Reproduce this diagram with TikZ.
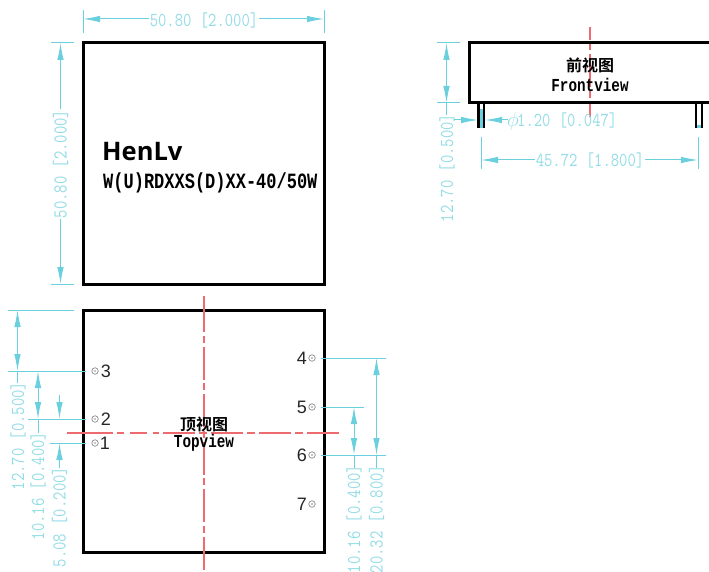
\documentclass[tikz,border=0pt]{standalone}
\usepackage{fontspec}
\setmonofont{Liberation Mono}
\newfontfamily\cjkb[BoldFont={Noto Sans CJK SC Bold}]{Noto Sans CJK SC}
\newfontfamily\hensans{Open Sans}
\newfontfamily\pinsans{Liberation Sans}
\newfontfamily\lmm{Latin Modern Mono}
\usetikzlibrary{arrows.meta}
\definecolor{dimc}{HTML}{6AD0DD}
\definecolor{dimt}{HTML}{93DCE6}
\definecolor{axisc}{HTML}{EC6A70}
\newcommand{\dimstr}[1]{\scalebox{1}[1.22]{#1}}
\newcommand{\tallb}[1]{\scalebox{1}[1.28]{#1}}
\tikzset{
  x=1pt,y=-1pt,
  body/.style={draw=black,line width=3pt},
  pinleg/.style={draw=black,line width=2.2pt},
  dimline/.style={draw=dimc,line width=1pt},
  extline/.style={draw=dimc,line width=1pt},
  both/.style={dimline,{Latex[length=17pt,width=6.5pt]}-{Latex[length=17pt,width=6.5pt]}},
  onetip/.style={dimline,-{Latex[length=17pt,width=6.5pt]}},
  dimtext/.style={text=dimt,inner sep=0pt,font=\lmm\fontsize{16.2}{17}\selectfont},
  vdim/.style={dimtext,rotate=90},
  axis/.style={draw=axisc,line width=1.2pt},
  axisv/.style={axis,dash pattern=on 33pt off 3.5pt on 7pt off 4pt},
  axish/.style={axis,dash pattern=on 32pt off 4pt on 8pt off 4pt},
  pinhole/.style={circle,draw=black!45,line width=.7pt,fill=white,inner sep=0pt,minimum size=6.5pt},
  pindot/.style={circle,fill=black!45,inner sep=0pt,minimum size=1.6pt},
  pinnum/.style={inner sep=0pt,font=\pinsans\fontsize{18}{18}\selectfont,text=black!85},
  cnlabel/.style={inner sep=0pt,font=\cjkb\bfseries\fontsize{16}{17}\selectfont},
  enlabel/.style={inner sep=0pt,font=\ttfamily\bfseries\fontsize{14.3}{16}\selectfont},
}
\begin{document}
\begin{tikzpicture}
\useasboundingbox (0,0) rectangle (709,572);
% ---------- main outline (product view)
\draw[body] (83,43) rectangle (324,284);
\node[inner sep=0pt,anchor=west,font=\hensans\bfseries\fontsize{25.5}{26}\selectfont] (brand) at (102,152) {HenLv};
\node[inner sep=0pt,anchor=west,font=\ttfamily\bfseries\fontsize{17}{18}\selectfont] (model) at (103,183) {\tallb{W(U)RDXXS(D)XX-40/50W}};
% top dim
\coordinate (tl) at (83,19); \coordinate (tr) at (324,19);
\draw[extline] (83,10) -- (83,33);
\draw[extline] (324,10) -- (324,33);
\draw[both] (tl) -- (tr);
\node[dimtext,fill=white,inner xsep=1pt] (d1) at (204,20) {\dimstr{50.80 [2.000]}};
% left dim
\coordinate (lt) at (60.5,43); \coordinate (lb) at (60.5,284);
\draw[extline] (51,43) -- (74,43);
\draw[extline] (51,284) -- (74,284);
\draw[both] (lt) -- (lb);
\node[vdim,fill=white,inner ysep=1pt,inner xsep=1pt] (d2) at (60.5,164) {\dimstr{50.80 [2.000]}};
% ---------- front view
\draw[axis,dash pattern=on 13pt off 3.5pt on 7pt off 4pt on 33pt off 3.5pt on 7pt off 4pt on 15pt off 0pt] (590,27) -- (590,117);
\draw[pinleg] (478.5,103) -- (478.5,128) (484,103) -- (484,128);
\draw[pinleg] (696,103) -- (696,128) (702,103) -- (702,128);
\fill[dimc] (479.6,109) rectangle (482.9,128);
\fill[dimc] (697.1,125) rectangle (700.9,128);
\draw[body] (709.5,43) -- (469,43) -- (469,103) -- (709.5,103);
\node[cnlabel] (fc) at (590,65) {前视图};
\node[enlabel] (fe) at (590,85) {\tallb{Frontview}};
\coordinate (ft) at (446.5,43); \coordinate (fb) at (446.5,103);
\draw[extline] (437,43) -- (460,43);
\draw[extline] (437,103) -- (460,103);
\draw[both] (ft) -- (fb);
\draw[dimline] (446.5,103) -- (446.5,115);
\node[vdim] (d3) at (447,168) {\dimstr{12.70 [0.500]}};
\coordinate (pl) at (478,120); \coordinate (pr) at (485,120);
\draw[onetip] (454,120) -- (pl);
\draw[onetip] (508,120) -- (pr);
\node[dimtext,anchor=east] (d4) at (617.5,120) {\dimstr{1.20 [0.047]}};
\node[text=dimt,inner sep=0pt,font=\fontsize{22}{22}\selectfont] (phi) at (513,121) {$\phi$};
\coordinate (fdl) at (481,160); \coordinate (fdr) at (698,160);
\draw[extline] (481,137) -- (481,169);
\draw[extline] (698,137) -- (698,169);
\draw[both] (fdl) -- (fdr);
\node[dimtext,fill=white,inner xsep=1pt] (d5) at (590,160) {\dimstr{45.72 [1.800]}};
% ---------- top view
\draw[body] (83,310) rectangle (324,552);
\draw[axis] (204,296) -- (204,299);
\draw[axisv] (204,299) -- (204,570);
\draw[axis] (67,433) -- (113,433) (117,433) -- (124,433) (130,433) -- (147,433) (153,433) -- (159,433);
\draw[axish] (163,433) -- (341,433);
\node[cnlabel] (tc) at (204,424) {顶视图};
\node[enlabel] (te) at (204,443) {\tallb{Topview}};
\foreach \n/\x/\y/\lx in {1/95/443/105,2/95/419/106,3/95/371/106,4/312/358/302,5/312/407/302,6/312/455/302,7/312/504/302}{
  \node[pinhole] (h\n) at (\x,\y) {};
  \node[pindot] (k\n) at (h\n) {};
  \node[pinnum] (n\n) at (\lx,\y) {\n};
}
% left ext lines
\draw[extline] (8,310) -- (74,310);
\draw[extline] (8,371) -- (86,371);
\draw[extline] (28,419) -- (86,419);
\draw[extline] (50,443) -- (86,443);
% left dims
\coordinate (a1) at (17.5,310); \coordinate (a2) at (17.5,371);
\draw[both] (a1) -- (a2);
\draw[dimline] (17.5,371) -- (17.5,383);
\node[vdim] (d6) at (18,436) {\dimstr{12.70 [0.500]}};
\coordinate (b1) at (38,371); \coordinate (b2) at (38,419);
\draw[both] (b1) -- (b2);
\draw[dimline] (38,419) -- (38,433);
\node[vdim] (d7) at (38,486) {\dimstr{10.16 [0.400]}};
\coordinate (c1) at (59.5,419); \coordinate (c2) at (59.5,443);
\draw[onetip] (59.5,395) -- (c1);
\draw[onetip] (59.5,468) -- (c2);
\node[vdim] (d8) at (59.5,517) {\dimstr{5.08 [0.200]}};
% right ext lines
\draw[extline] (321,358) -- (386,358);
\draw[extline] (321,407) -- (364,407);
\draw[extline] (321,455) -- (386,455);
% right dims
\coordinate (r1) at (354,407); \coordinate (r2) at (354,455);
\draw[both] (r1) -- (r2);
\draw[dimline] (354,455) -- (354,468);
\node[vdim] (d9) at (354,519) {\dimstr{10.16 [0.400]}};
\coordinate (s1) at (376.5,358); \coordinate (s2) at (376.5,455);
\draw[both] (s1) -- (s2);
\draw[dimline] (376.5,455) -- (376.5,468);
\node[vdim] (d10) at (376.5,519) {\dimstr{20.32 [0.800]}};
\end{tikzpicture}
\end{document}
